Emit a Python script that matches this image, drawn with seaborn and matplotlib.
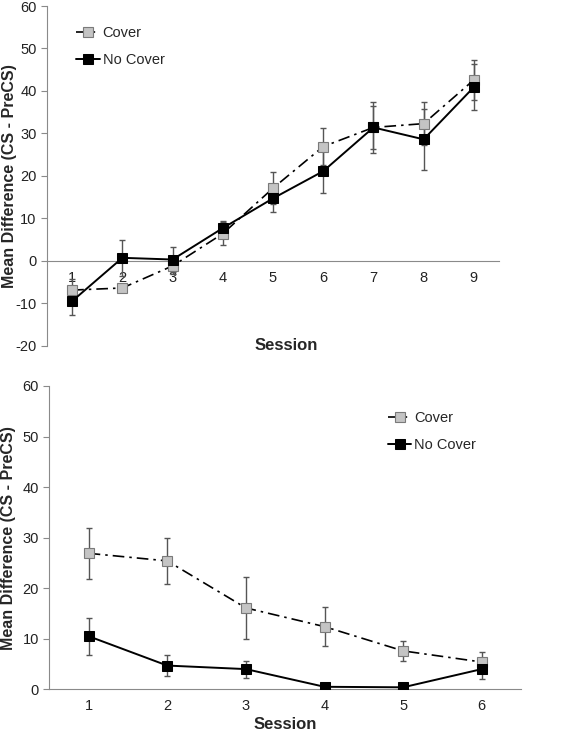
import numpy as np
import pandas as pd
import seaborn as sns
import matplotlib.pyplot as plt

# Top panel (9 sessions)
sessions_a = [1, 2, 3, 4, 5, 6, 7, 8, 9]
cover_a = [-6.9, -6.4, -1.2, 6.4, 17.1, 26.9, 31.4, 32.3, 42.6]
cover_a_err = [2.5, 1.0, 2.0, 2.7, 3.8, 4.4, 5.9, 5.0, 4.7]
nocover_a = [-9.5, 0.7, 0.3, 7.7, 14.7, 21.1, 31.4, 28.6, 40.9]
nocover_a_err = [3.3, 4.3, 3.0, 1.7, 3.3, 5.1, 5.0, 7.2, 5.5]

# Bottom panel (6 sessions)
sessions_b = [1, 2, 3, 4, 5, 6]
cover_b = [26.9, 25.4, 16.1, 12.4, 7.6, 5.4]
cover_b_err = [5.0, 4.6, 6.2, 3.8, 2.0, 1.9]
nocover_b = [10.5, 4.7, 4.0, 0.5, 0.4, 4.0]
nocover_b_err = [3.7, 2.0, 1.7, 0.3, 0.3, 2.0]

sns.set_style("white")
plt.rcParams['font.family'] = ['Liberation Sans', 'DejaVu Sans']
plt.rcParams['axes.unicode_minus'] = False

fig = plt.figure(figsize=(5.67, 7.32), dpi=100)
ax1 = fig.add_axes([0.083, 0.5277, 0.797, 0.4641])
ax2 = fig.add_axes([0.087, 0.0583, 0.832, 0.4144])

axis_col = '#8a8a8a'
err_col = '#555555'


def draw(ax, x, cov, cov_err, noc, noc_err):
    df_c = pd.DataFrame({'Session': x, 'Value': cov})
    df_n = pd.DataFrame({'Session': x, 'Value': noc})
    ax.errorbar(x, cov, yerr=cov_err, fmt='none', ecolor=err_col,
                elinewidth=1, capsize=2, capthick=1, zorder=2)
    ax.errorbar(x, noc, yerr=noc_err, fmt='none', ecolor=err_col,
                elinewidth=1, capsize=2, capthick=1, zorder=2)
    sns.lineplot(data=df_c, x='Session', y='Value', ax=ax, color='black',
                 linewidth=1.2, dashes=False, linestyle=(0, (7, 3, 1.5, 3)),
                 marker='s', markersize=7.5, markerfacecolor='#c4c4c4',
                 markeredgecolor='#7a7a7a', markeredgewidth=0.8,
                 label='Cover', zorder=3)
    sns.lineplot(data=df_n, x='Session', y='Value', ax=ax, color='black',
                 linewidth=1.4, marker='s', markersize=7.5,
                 markerfacecolor='black', markeredgecolor='black',
                 label='No Cover', zorder=4)
    n = len(x)
    ax.set_xlim(0.5, n + 0.5)
    ax.set_xticks(x)
    ax.set_xticks(np.arange(0.5, n + 1, 1.0), minor=True)
    ax.tick_params(axis='x', which='major', length=0, labelsize=10.5,
                   pad=7, colors='#222222')
    ax.tick_params(axis='x', which='minor', length=4, width=0.8,
                   direction='out', color=axis_col)
    ax.tick_params(axis='y', length=4, width=0.8, direction='out',
                   color=axis_col, labelsize=10.5, labelcolor='#222222',
                   left=True)
    for s in ['top', 'right']:
        ax.spines[s].set_visible(False)
    for s in ['left', 'bottom']:
        ax.spines[s].set_color(axis_col)
        ax.spines[s].set_linewidth(0.8)
    ax.set_ylabel('Mean Difference (CS - PreCS)', fontsize=11.5,
                  fontweight='bold', va='center')
    ax.set_xlabel('Session', fontsize=12, fontweight='bold')
    ax.grid(False)


draw(ax1, sessions_a, cover_a, cover_a_err, nocover_a, nocover_a_err)
ax1.set_ylim(-20, 60)
ax1.set_yticks(range(-20, 61, 10))
ax1.spines['bottom'].set_position(('data', 0))
ax1.xaxis.set_label_coords(0.53, 0.0)
ax1.xaxis.label.set_va('center')
ax1.yaxis.set_label_coords(-0.083, 0.5)
ax1.legend(loc='upper left', bbox_to_anchor=(0.036, 0.98), frameon=False,
           fontsize=10.5, handlelength=1.6, handletextpad=0.2,
           labelspacing=0.9)

draw(ax2, sessions_b, cover_b, cover_b_err, nocover_b, nocover_b_err)
ax2.set_ylim(0, 60)
ax2.set_yticks(range(0, 61, 10))
ax2.xaxis.labelpad = 3
ax2.yaxis.set_label_coords(-0.087, 0.5)
ax2.legend(loc='upper left', bbox_to_anchor=(0.69, 0.96), frameon=False,
           fontsize=10.5, handlelength=1.6, handletextpad=0.2,
           labelspacing=0.9)

fig.savefig('out.png', dpi=100)
